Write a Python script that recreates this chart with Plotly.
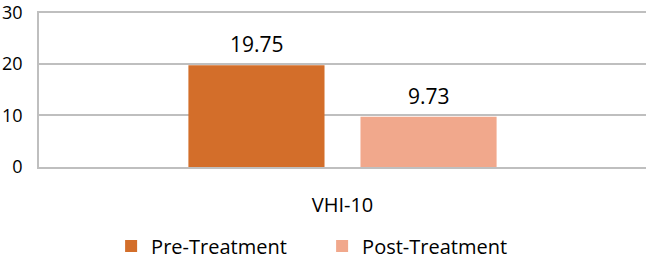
import plotly.graph_objects as go

categories = ["VHI-10"]
series_names = ["Pre-Treatment", "Post-Treatment"]
pre_values = [19.75]
post_values = [9.73]
y_ticks = [0, 10, 20, 30]

colors = ["#D36E2A", "#F1A88C"]
FONT = "Open Sans, Lato, sans-serif"

fig = go.Figure()
for name, vals, col in zip(series_names, [pre_values, post_values], colors):
    fig.add_trace(go.Bar(
        x=categories, y=vals, name=name, marker=dict(color=col, line=dict(width=0)),
    ))

# value labels above the bars
for vals, xs in zip([pre_values, post_values], [-86, 86]):
    for c, v in zip(categories, vals):
        fig.add_annotation(x=c, y=v, text=f"{v:.2f}", showarrow=False,
                           xshift=xs, yshift=21, yanchor="middle",
                           font=dict(family=FONT, size=21, color="#000000"))

fig.update_layout(
    width=646, height=261, autosize=False,
    margin=dict(l=39, r=0, t=11, b=94),
    paper_bgcolor="white", plot_bgcolor="white",
    barmode="group", bargap=0.433, bargroupgap=0.209,
    font=dict(family=FONT, size=20, color="#000000"),
    showlegend=True,
    legend=dict(orientation="h", xref="container", yref="container",
                x=0.172, xanchor="left", y=0.0575, yanchor="middle",
                font=dict(family=FONT, size=20), entrywidth=166, entrywidthmode="pixels",
                traceorder="normal"),
)
fig.update_xaxes(showline=True, linecolor="#BFBFBF", linewidth=1.5, showgrid=False, automargin=False,
                 ticks="", ticklabelstandoff=19, tickfont=dict(family=FONT, size=20))
fig.update_yaxes(range=[0, 30.25], tickvals=y_ticks, showgrid=True, gridcolor="#BFBFBF", gridwidth=1.5,
                 showline=True, linecolor="#BFBFBF", linewidth=1.5, zeroline=False, automargin=False,
                 ticklabeloverflow="allow",
                 ticks="", ticklabelstandoff=11, tickfont=dict(family=FONT, size=18))

fig.write_html("out.html", config={"responsive": False, "displayModeBar": False},
               default_width="646px", default_height="261px",
               post_script="document.body.style.margin='0';document.body.style.overflow='hidden';")
